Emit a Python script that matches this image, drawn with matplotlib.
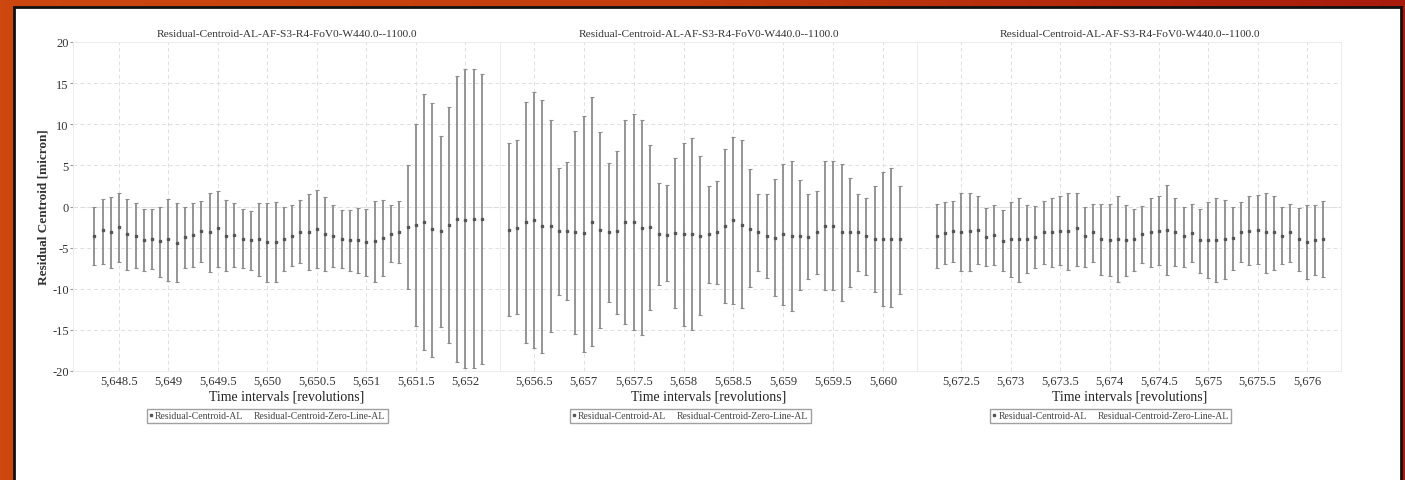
import numpy as np
import matplotlib
matplotlib.use("Agg")
import matplotlib.pyplot as plt
from matplotlib.ticker import FuncFormatter, MultipleLocator
from matplotlib.lines import Line2D
from matplotlib.patches import Rectangle

plt.rcParams['font.family'] = ['Liberation Serif', 'DejaVu Serif']
plt.rcParams['axes.unicode_minus'] = False

title = "Residual-Centroid-AL-AF-S3-R4-FoV0-W440.0--1100.0"
xlabel = "Time intervals [revolutions]"
ylabel = "Residual Centroid [micron]"
legend_labels = ["Residual-Centroid-AL", "Residual-Centroid-Zero-Line-AL"]

# first bin of each panel, bins every 1/12 revolution, 48 bins per panel
starts = [5648.25, 5656.25, 5672.25]
n_bins = 48
xlims = [(5648.035, 5652.35), (5656.17, 5660.34), (5672.06, 5676.345)]

# panel 1: mean, upper and lower ends of the error bars
mean1 = [-3.55, -2.9, -3.1, -2.5, -3.3, -3.55, -4.1, -3.95, -4.25, -4.0, -4.4, -3.7,
         -3.5, -3.0, -3.15, -2.65, -3.55, -3.45, -4.0, -4.05, -3.95, -4.35, -4.3, -3.9,
         -3.55, -3.1, -3.1, -2.75, -3.3, -3.55, -3.95, -4.1, -4.1, -4.35, -4.25, -3.8,
         -3.35, -3.1, -2.55, -2.2, -1.85, -2.75, -2.95, -2.25, -1.5, -1.6, -1.5, -1.5]
top1 = [0.0, 0.9, 1.1, 1.7, 0.9, 0.4, -0.3, -0.3, 0.0, 0.9, 0.4, 0.0,
        0.4, 0.7, 1.7, 1.9, 0.8, 0.4, -0.3, -0.5, 0.4, 0.4, 0.6, -0.1,
        0.2, 0.8, 1.5, 2.0, 1.1, 0.2, -0.4, -0.45, -0.2, -0.3, 0.7, 0.8,
        0.2, 0.7, 5.0, 10.05, 13.7, 12.6, 8.6, 12.15, 15.85, 16.7, 16.7, 16.15]
bot1 = [-7.1, -7.0, -7.5, -6.7, -7.7, -7.5, -7.9, -7.6, -8.6, -9.0, -9.15, -7.5,
        -7.3, -6.8, -8.0, -7.3, -7.9, -7.4, -7.5, -7.75, -8.4, -9.2, -9.2, -7.8,
        -7.2, -6.9, -7.7, -7.5, -7.9, -7.3, -7.5, -7.9, -8.1, -8.4, -9.15, -8.4,
        -6.8, -6.9, -10.0, -14.5, -17.45, -18.25, -14.6, -16.6, -18.9, -19.6, -19.6, -19.2]

# panel 2
mean2 = [-2.8, -2.6, -1.9, -1.65, -2.4, -2.35, -3.0, -3.0, -3.15, -3.2, -1.9, -2.85,
         -3.15, -3.0, -1.85, -1.85, -2.6, -2.55, -3.35, -3.45, -3.2, -3.4, -3.4, -3.55,
         -3.4, -3.15, -2.4, -1.7, -2.25, -2.75, -3.15, -3.55, -3.8, -3.4, -3.55, -3.55,
         -3.7, -3.05, -2.4, -2.4, -3.15, -3.15, -3.15, -3.6, -3.95, -3.9, -3.9, -4.0]
top2 = [7.7, 8.1, 12.75, 13.9, 12.95, 10.55, 4.65, 5.35, 9.15, 11.05, 13.3, 9.0,
        5.3, 6.8, 10.55, 11.25, 10.55, 7.5, 2.8, 2.6, 5.9, 7.7, 8.3, 6.1,
        2.45, 3.15, 7.0, 8.4, 8.1, 4.5, 1.55, 1.55, 3.4, 5.15, 5.55, 3.2,
        1.55, 1.9, 5.55, 5.55, 5.15, 3.5, 1.55, 1.0, 2.45, 4.25, 4.65, 2.45]
bot2 = [-13.3, -13.1, -16.6, -17.2, -17.8, -15.3, -10.8, -11.4, -15.5, -17.65, -17.0, -14.8,
        -11.65, -13.1, -14.3, -15.0, -15.6, -12.6, -9.6, -9.0, -12.4, -14.5, -15.0, -13.2,
        -9.3, -9.4, -11.7, -11.9, -12.4, -9.8, -7.9, -8.7, -10.9, -12.0, -12.7, -10.2,
        -8.8, -8.2, -10.2, -10.2, -11.45, -9.75, -7.9, -8.3, -10.4, -12.05, -12.25, -10.6]

# panel 3
mean3 = [-3.55, -3.25, -3.0, -3.15, -3.0, -2.85, -3.65, -3.45, -4.15, -4.0, -4.0, -3.95,
         -3.75, -3.15, -3.05, -2.95, -2.95, -2.65, -3.6, -3.15, -4.0, -4.05, -4.0, -4.05,
         -3.95, -3.35, -3.05, -2.95, -2.8, -3.05, -3.6, -3.25, -4.05, -4.05, -4.05, -3.95,
         -3.85, -3.05, -2.95, -2.85, -3.15, -3.15, -3.55, -3.15, -4.0, -4.3, -4.05, -3.95]
top3 = [0.3, 0.5, 0.7, 1.65, 1.65, 1.25, -0.2, 0.2, -0.4, 0.5, 1.0, 0.2,
        0.1, 0.7, 1.0, 1.25, 1.65, 1.7, 0.0, 0.3, 0.3, 0.3, 1.25, 0.2,
        -0.3, 0.1, 1.0, 1.25, 2.65, 1.0, -0.1, 0.3, -0.3, 0.5, 1.0, 0.8,
        0.0, 0.5, 1.25, 1.4, 1.6, 1.3, -0.1, 0.3, -0.2, 0.2, 0.2, 0.7]
bot3 = [-7.5, -7.05, -6.8, -7.9, -7.8, -7.0, -7.2, -7.1, -7.9, -8.55, -9.15, -8.1,
        -7.5, -7.0, -7.4, -7.1, -7.7, -7.2, -7.3, -6.8, -8.3, -8.5, -9.2, -8.4,
        -7.8, -6.85, -7.4, -7.1, -8.3, -7.2, -7.3, -6.8, -8.1, -8.7, -9.2, -8.8,
        -7.7, -6.8, -7.1, -7.05, -8.1, -7.7, -7.0, -6.7, -7.9, -8.8, -8.3, -8.55]

panels = [(mean1, top1, bot1), (mean2, top2, bot2), (mean3, top3, bot3)]

W, H = 1405, 481
fig = plt.figure(figsize=(W / 100, H / 100), dpi=100)

# orange frame behind the white sheet
bg = fig.add_axes([0, 0, 1, 1], zorder=-10)
grad = np.linspace(0, 1, 256).reshape(1, -1)
cmap = matplotlib.colors.LinearSegmentedColormap.from_list("frame", ["#cc4810", "#c23c0e", "#a81a0c"])
bg.imshow(grad, aspect="auto", cmap=cmap, extent=[0, 1, 0, 1])
bg.add_patch(Rectangle((14 / W, -0.05), (1401 - 14) / W, 1.05 - 8 / H, facecolor="white",
                       edgecolor="#111111", linewidth=2.0, clip_on=False))
bg.set_xlim(0, 1)
bg.set_ylim(0, 1)
bg.axis("off")

# axes boxes in pixels: left, right
boxes = [(73, 500), (501, 917), (918, 1341)]
top_px, bottom_px = 43, 372

fmt = FuncFormatter(lambda v, p: f"{v:,g}")

for i, ((l, r), (mean, top, bot), start, xl) in enumerate(zip(boxes, panels, starts, xlims)):
    ax = fig.add_axes([l / W, 1 - bottom_px / H, (r - l) / W, (bottom_px - top_px) / H])
    x = start + np.arange(n_bins) / 12.0
    mean = np.array(mean)
    yerr = [mean - np.array(bot), np.array(top) - mean]
    ax.axhline(0, color="#dddddd", lw=0.8, ls=(0, (4, 3)), zorder=1)
    ax.errorbar(x, mean, yerr=yerr, fmt="none", ecolor="#8c8c8c", elinewidth=1.3,
                capsize=1.3, capthick=0.8, zorder=2)
    ax.plot(x, mean, ls="none", marker="s", ms=1.6, color="#555555", zorder=3)
    ax.set_xlim(*xl)
    ax.set_ylim(-20, 20)
    ax.xaxis.set_major_locator(MultipleLocator(0.5))
    ax.xaxis.set_major_formatter(fmt)
    ax.yaxis.set_major_locator(MultipleLocator(5))
    ax.grid(True, color="#e0e0e0", lw=0.7, ls=(0, (4, 3)))
    ax.set_axisbelow(True)
    for s in ax.spines.values():
        s.set_color("#ececec")
        s.set_linewidth(0.7)
    if i > 0:
        ax.spines["left"].set_visible(False)
    ax.tick_params(axis="x", length=0, pad=3, labelsize=9, labelcolor="#333333")
    ax.tick_params(axis="y", length=2, color="#999999", labelsize=9, labelcolor="#333333", pad=1)
    if i > 0:
        ax.tick_params(axis="y", labelleft=False, length=0)
    else:
        ax.set_ylabel(ylabel, fontsize=9.5, fontweight="bold", color="#333333", labelpad=2)
    ax.set_title(title, fontsize=8.2, color="#333333", pad=4)
    ax.set_xlabel(xlabel, fontsize=10, color="#222222", labelpad=2)
    handles = [Line2D([], [], ls="none", marker="s", ms=1.5, color="#555555"),
               Line2D([], [], color="white", lw=0.5)]
    ax.legend(handles, legend_labels, loc="upper center", bbox_to_anchor=(0.455, -0.115),
              ncol=2, fontsize=7, frameon=True, fancybox=False, edgecolor="#888888",
              handlelength=0.4, handletextpad=0.2, columnspacing=0.5, borderpad=0.25,
              borderaxespad=0, labelcolor="#444444")

fig.savefig("out.png", dpi=100)
